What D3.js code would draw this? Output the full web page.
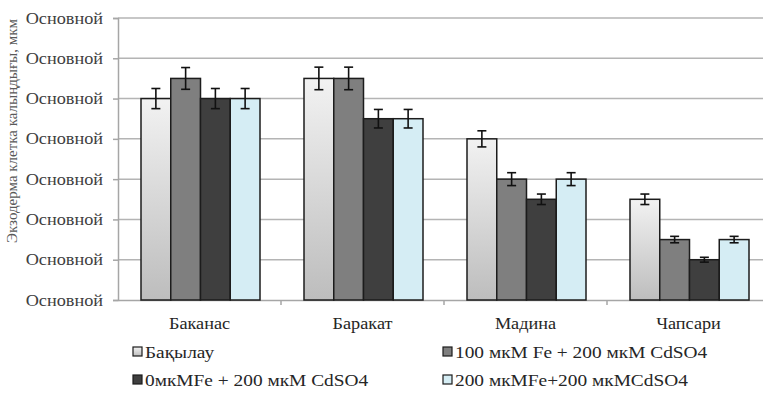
<!DOCTYPE html>
<html><head><meta charset="utf-8">
<script src="https://cdn.jsdelivr.net/npm/d3@7"></script>
<style>body{margin:0;background:#fff}svg{display:block}</style>
</head><body>
<svg id="c" width="763" height="401"></svg>
<script>
const categories = ["Баканас", "Баракат", "Мадина", "Чапсари"];
const seriesNames = ["Бақылау", "100 мкМ Fe + 200 мкМ CdSO4", "0мкМFe + 200 мкМ CdSO4", "200 мкМFe+200 мкМCdSO4"];
const s1 = [5, 5.5, 4, 2.5];
const s2 = [5.5, 5.5, 3, 1.5];
const s3 = [5, 4.5, 2.5, 1];
const s4 = [5, 4.5, 3, 1.5];
const e1 = [0.25, 0.28, 0.2, 0.13];
const e2 = [0.27, 0.28, 0.16, 0.08];
const e3 = [0.25, 0.23, 0.13, 0.06];
const e4 = [0.25, 0.23, 0.16, 0.08];
const yTicks = [0, 1, 2, 3, 4, 5, 6, 7];
const yTickLabel = "Основной";
const yTitle = "Экзодерма клетка калыңдығы, мкм";

const FONT = '"Liberation Serif"';
const SX = 1.14;
const stretch = (sel, ax) => sel.attr("transform", `translate(${ax},0) scale(${SX},1) translate(${-ax},0)`);
const values = [s1, s2, s3, s4];
const errors = [e1, e2, e3, e4];
const svg = d3.select("#c");
const defs = svg.append("defs");
const g1 = defs.append("linearGradient").attr("id","grad1").attr("x1",0).attr("y1",0).attr("x2",0).attr("y2",1);
g1.append("stop").attr("offset","0%").attr("stop-color","#f2f2f2");
g1.append("stop").attr("offset","100%").attr("stop-color","#bdbdbd");
const fills = ["url(#grad1)", "#7f7f7f", "#3f3f3f", "#d5edf4"];

const x0 = 118, x1 = 770, yTop = 18, yBot = 300;
const x = d3.scaleBand().domain(categories).range([x0, x1]).paddingInner(0).paddingOuter(0);
const inner = d3.scaleBand().domain(d3.range(4)).range([23, x.bandwidth() - 21]);
const y = d3.scaleLinear().domain([0, 7]).range([yBot, yTop]);

// gridlines
svg.append("g").selectAll("line").data(yTicks.slice(1)).join("line")
  .attr("x1", x0).attr("x2", 763).attr("y1", d => y(d)).attr("y2", d => y(d))
  .attr("stroke", "#b4b4b4").attr("stroke-width", 1.5);

// y axis
const ya = svg.append("g").attr("transform", `translate(${x0},0)`)
  .call(d3.axisLeft(y).tickValues(yTicks).tickFormat(() => yTickLabel).tickSize(5).tickPadding(10));
ya.attr("font-family", null);
ya.select(".domain").attr("stroke", "#a6a6a6").attr("stroke-width", 1.5);
ya.selectAll(".tick line").attr("stroke", "#a6a6a6").attr("stroke-width", 1.5);
ya.selectAll("text").style("font-size", "16px").style("fill", "#404040").style("font-family", FONT);
stretch(ya.selectAll("text"), -15);

// x axis
const xa = svg.append("g").attr("transform", `translate(0,${yBot})`)
  .call(d3.axisBottom(x).tickSize(0).tickPadding(18));
xa.attr("font-family", null);
xa.select(".domain").attr("stroke", "#a6a6a6").attr("stroke-width", 1.5);
xa.selectAll("text").style("font-size", "16px").style("fill", "#262626").style("font-family", FONT);
stretch(xa.selectAll("text"), 0);
xa.selectAll(".bnd").data(categories.slice(1)).join("line")
  .attr("x1", d => x(d)).attr("x2", d => x(d)).attr("y1", 0).attr("y2", 5)
  .attr("stroke", "#a6a6a6").attr("stroke-width", 1.5);

// bars
values.forEach((vals, si) => {
  const g = svg.append("g");
  g.selectAll("rect").data(vals).join("rect")
    .attr("x", (d, i) => x(categories[i]) + inner(si))
    .attr("y", d => y(d))
    .attr("width", inner.bandwidth())
    .attr("height", d => y(0) - y(d))
    .attr("fill", fills[si]).attr("stroke", "#1c1c1c").attr("stroke-width", 1.5);
});
// error bars
values.forEach((vals, si) => {
  const g = svg.append("g").attr("stroke", "#111").attr("stroke-width", 1.6);
  vals.forEach((v, i) => {
    const cx = x(categories[i]) + inner(si) + inner.bandwidth() / 2;
    const e = errors[si][i];
    g.append("line").attr("x1", cx).attr("x2", cx).attr("y1", y(v + e)).attr("y2", y(v - e));
    g.append("line").attr("x1", cx - 4.5).attr("x2", cx + 4.5).attr("y1", y(v + e)).attr("y2", y(v + e));
    g.append("line").attr("x1", cx - 4.5).attr("x2", cx + 4.5).attr("y1", y(v - e)).attr("y2", y(v - e));
  });
});

// y title
svg.append("text").attr("transform", `translate(17,${(20+242)/2}) rotate(-90)`)
  .attr("text-anchor", "middle").style("font-size", "15px").style("fill", "#595959").style("font-family", FONT).text(yTitle);

// legend
const legPos = [[133, 352], [443, 352], [133, 380], [443, 380]];
seriesNames.forEach((n, i) => {
  const [lx, ly] = legPos[i];
  svg.append("rect").attr("x", lx).attr("y", ly - 5).attr("width", 9).attr("height", 9)
    .attr("fill", fills[i]).attr("stroke", "#1c1c1c").attr("stroke-width", 1.2);
  const t = svg.append("text").attr("x", lx + 12).attr("y", ly + 6).style("font-size", "17px").style("fill", "#262626").style("font-family", FONT).text(n);
  stretch(t, lx + 12);
});
</script>
</body></html>
